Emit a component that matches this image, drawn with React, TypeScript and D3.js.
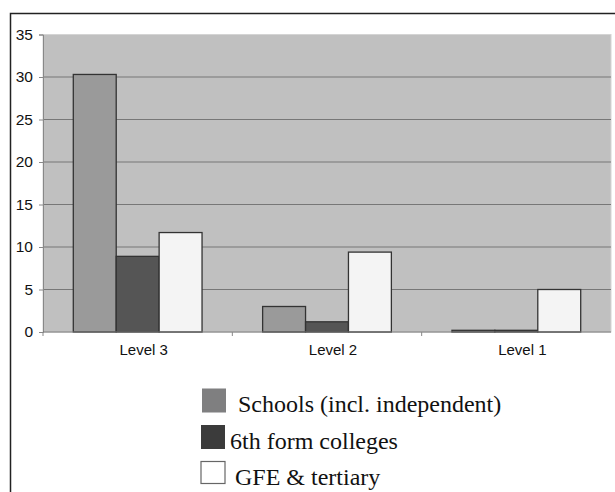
import * as d3 from "d3";
import { useEffect, useRef } from "react";

const categories = ["Level 3", "Level 2", "Level 1"];
const seriesNames = ["Schools (incl. independent)", "6th form colleges", "GFE & tertiary"];
const schools = [30.3, 3.0, 0.2];
const sixthForm = [8.9, 1.2, 0.2];
const gfe = [11.7, 9.4, 5.0];
const yTicks = [0, 5, 10, 15, 20, 25, 30, 35];

const barColors = ["#9a9a9a", "#555555", "#f4f4f4"];
const swatchColors = ["#7f7f80", "#3b3b3b", "#ffffff"];

const App = () => {
  const svgRef = useRef<SVGSVGElement | null>(null);
  const w = 615;
  const h = 492;
  const m = { top: 34.5, right: 4, bottom: 160, left: 43 };

  useEffect(() => {
    if (!svgRef.current) return;
    const svg = d3.select(svgRef.current);
    svg.selectAll("*").remove();

    const plotW = w - m.left - m.right;
    const plotH = h - m.top - m.bottom;
    const values = [schools, sixthForm, gfe];

    // outer frame (only top + left are visible)
    svg.append("path")
      .attr("d", `M10.5,${h} V13.5 H${w}`)
      .attr("fill", "none")
      .attr("stroke", "#222")
      .attr("stroke-width", 1.5);

    const g = svg.append("g").attr("transform", `translate(${m.left},${m.top})`);

    const x0 = d3.scaleBand().domain(categories).range([0, plotW]).padding(0);
    const x1 = d3.scaleBand()
      .domain(seriesNames)
      .range([x0.bandwidth() * 0.16, x0.bandwidth() * 0.84])
      .padding(0);
    const y = d3.scaleLinear().domain([0, 35]).range([plotH, 0]);

    g.append("rect")
      .attr("width", plotW)
      .attr("height", plotH)
      .attr("fill", "#c0c0c0")
      .attr("stroke", "#d4d4d4")
      .attr("stroke-width", 1);

    // gridlines
    g.append("g")
      .selectAll("line")
      .data(yTicks.filter(t => t > 0 && t < 35))
      .enter().append("line")
      .attr("x1", 0)
      .attr("x2", plotW)
      .attr("y1", d => y(d))
      .attr("y2", d => y(d))
      .attr("stroke", "#777")
      .attr("stroke-width", 1.2);

    // bars
    categories.forEach((cat, ci) => {
      seriesNames.forEach((s, si) => {
        const v = values[si][ci];
        g.append("rect")
          .attr("x", x0(cat)! + x1(s)!)
          .attr("y", y(v))
          .attr("width", x1.bandwidth())
          .attr("height", plotH - y(v))
          .attr("fill", barColors[si])
          .attr("stroke", "#333")
          .attr("stroke-width", 1.3);
      });
    });

    // y axis
    const yAxis = g.append("g")
      .call(d3.axisLeft(y).tickValues(yTicks).tickSize(4).tickPadding(6));
    yAxis.select(".domain").attr("stroke", "#888");
    yAxis.selectAll(".tick line").attr("stroke", "#888");
    yAxis.selectAll(".tick text")
      .attr("font-family", "Liberation Sans, Arial, sans-serif")
      .attr("font-size", 15.5)
      .attr("fill", "#111");

    // x axis
    const xa = g.append("g").attr("transform", `translate(0,${plotH})`);
    xa.append("line")
      .attr("x1", 0).attr("x2", plotW)
      .attr("stroke", "#777").attr("stroke-width", 1);
    xa.selectAll("line.tk")
      .data(categories)
      .enter().append("line")
      .attr("class", "tk")
      .attr("x1", d => x0(d)!)
      .attr("x2", d => x0(d)!)
      .attr("y1", 0).attr("y2", 4)
      .attr("stroke", "#888");
    xa.selectAll("text")
      .data(categories)
      .enter().append("text")
      .attr("x", d => x0(d)! + x0.bandwidth() / 2 + 6)
      .attr("y", 23)
      .attr("text-anchor", "middle")
      .attr("font-family", "Liberation Sans, Arial, sans-serif")
      .attr("font-size", 15)
      .attr("fill", "#111")
      .text(d => d);

    // legend
    const lg = svg.append("g").attr("transform", "translate(201,388)");
    const items = lg.selectAll("g")
      .data(seriesNames)
      .enter().append("g")
      .attr("transform", (_, i) => `translate(0,${i * 36.5})`);
    items.append("rect")
      .attr("x", (_, i) => (i === 0 ? 1 : 0))
      .attr("y", 0.5)
      .attr("width", 24)
      .attr("height", (_, i) => (i === 2 ? 22 : 24))
      .attr("fill", (_, i) => swatchColors[i])
      .attr("stroke", (_, i) => (i === 2 ? "#666" : "none"))
      .attr("stroke-width", 1.2);
    items.append("text")
      .attr("x", (_, i) => [37, 29, 34][i])
      .attr("y", 24)
      .attr("font-family", "Liberation Serif, Times New Roman, serif")
      .attr("font-size", 24)
      .attr("fill", "#111")
      .text(d => d);
  }, []);

  return (
    <svg
      ref={svgRef}
      width={w}
      height={h}
      style={{ position: "absolute", left: 0, top: 0, background: "#fff" }}
    />
  );
};

export default App;
